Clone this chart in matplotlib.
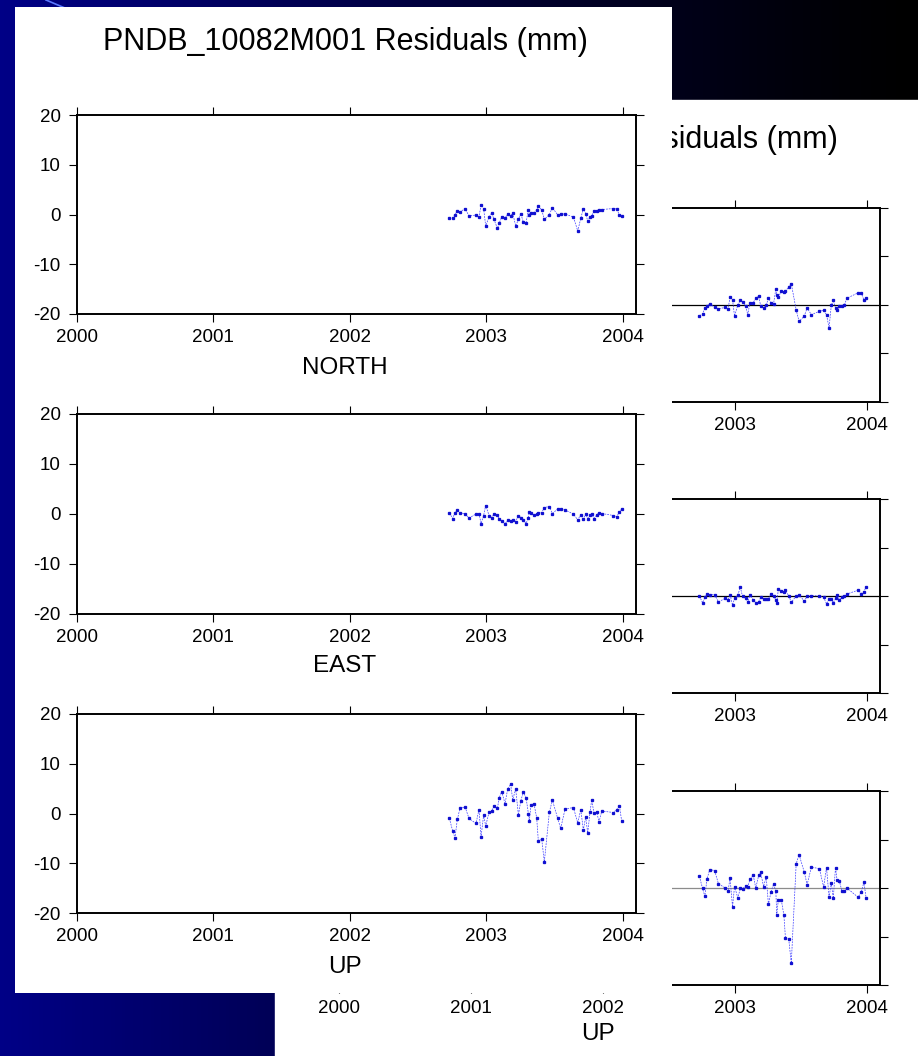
import numpy as np
import matplotlib
matplotlib.use("Agg")
import matplotlib.pyplot as plt
from matplotlib.patches import Rectangle

plt.rcParams['font.family'] = ['Liberation Sans', 'DejaVu Sans']
plt.rcParams['axes.unicode_minus'] = False

W, H = 918, 1056

# decimal years of the weekly solutions (shared by both station plots)
epochs = [2002.730, 2002.754, 2002.771, 2002.788, 2002.808, 2002.845, 2002.874, 2002.925,
          2002.947, 2002.962, 2002.981, 2002.996, 2003.021, 2003.040, 2003.057, 2003.082,
          2003.096, 2003.113, 2003.138, 2003.157, 2003.179, 2003.194, 2003.216, 2003.236,
          2003.253, 2003.272, 2003.292, 2003.309, 2003.316, 2003.328, 2003.350, 2003.370,
          2003.382, 2003.407, 2003.426, 2003.463, 2003.485, 2003.524, 2003.546, 2003.578,
          2003.639, 2003.671, 2003.693, 2003.712, 2003.729, 2003.744, 2003.761, 2003.773,
          2003.790, 2003.810, 2003.827, 2003.847, 2003.932, 2003.957, 2003.976, 2003.993]

# front plot: PNDB_10082M001 residuals (mm)
north_front = [-0.8, -0.7, 0.0, 0.7, 0.5, 1.2, -0.3, -0.1, -0.5, 1.9,
               1.2, -2.3, -0.5, 0.3, -1.0, -2.8, -1.7, -0.5, -0.8, 0.2,
               -0.3, 0.3, -2.3, -1.0, 0.2, -1.5, -1.7, 1.0, -0.1, 0.4,
               0.3, 0.9, 1.7, 0.9, -1.0, 0.0, 1.4, -0.1, 0.1, 0.1,
               -0.5, -3.3, -0.8, 1.2, 0.2, -1.3, -0.5, -0.3, 0.7, 0.8,
               1.0, 1.0, 1.2, 1.1, -0.1, -0.3]
east_front = [0.2, -0.9, 0.3, 0.8, 0.3, 0.0, -0.8, 0.0, 0.1, -1.9,
              -0.3, 1.7, -0.3, -0.7, 0.0, -0.2, -1.0, -1.3, -2.0, -1.2,
              -1.3, -1.2, -1.5, -0.3, -0.7, -1.2, -1.9, -0.7, 0.5, 0.3,
              -0.2, 0.0, 0.3, 0.3, 1.3, 1.5, 0.1, 1.0, 1.0, 0.8,
              0.0, -1.2, -0.1, -1.0, 0.0, -0.9, -0.2, 0.0, -0.9, -0.2,
              0.3, 0.1, -0.3, -0.5, 0.4, 1.0]
up_front = [-1.0, -3.5, -4.9, -1.2, 1.1, 1.3, -1.0, -2.0, 0.8, -4.7,
            -0.3, -2.5, 0.3, 0.5, 1.5, 1.1, 3.2, 4.4, 2.0, 4.9,
            5.9, 2.8, 4.9, -0.3, 2.5, 4.3, 3.2, 0.0, -1.5, 1.7,
            2.0, -0.9, -5.5, -5.2, -9.7, 0.3, 2.7, -1.0, -3.0, 0.9,
            1.2, -1.9, 0.8, -3.3, -0.7, -3.9, 0.3, 2.7, 0.1, 0.3,
            -1.7, 0.5, 0.2, 0.8, 1.6, -1.5]

# back plot (second station, mostly hidden)
north_back = [-2.2, -1.9, -0.6, -0.3, 0.3, -0.5, -0.8, -0.5, -0.8, 1.6,
              1.1, -2.3, 0.0, 1.0, 0.6, -0.3, -2.0, 0.5, 0.5, 1.4,
              1.8, -0.2, -0.6, 0.0, 1.4, 0.4, 0.3, 3.3, 2.0, 1.6,
              2.8, 2.6, 2.8, 3.8, 4.4, -1.0, -3.4, -2.3, -0.6, -2.0,
              -1.3, -1.1, -2.0, -4.7, -0.1, 1.0, -0.6, -1.0, -0.3, -0.3,
              -0.1, 1.4, 2.5, 2.5, 1.0, 1.4]
east_back = [0.0, -1.4, -0.3, 0.4, 0.2, 0.3, -1.2, -0.5, -0.8, 0.3,
             -1.9, -0.5, 0.2, 1.8, -0.1, -0.5, -1.3, 0.3, -0.8, -1.4,
             -1.2, -0.3, -0.6, -0.6, -0.6, 0.5, -0.1, -0.8, -1.4, 1.4,
             1.1, 0.9, 1.2, 0.0, -1.3, 0.0, 0.2, -1.0, -0.1, 0.1,
             0.0, -0.3, -1.6, -0.7, -0.7, -1.4, -0.5, 0.2, -0.8, -0.3,
             -0.1, 0.4, 1.2, 0.5, 0.9, 1.9]
up_back = [2.4, -0.1, -1.7, 1.9, 3.8, 3.6, 0.9, 0.0, -0.7, 2.1,
           -3.9, 0.3, -2.0, -0.1, -0.2, 0.5, 0.2, 1.8, 2.6, 0.0,
           2.6, 3.2, 0.3, 2.3, -3.4, -0.8, 0.8, -0.7, -5.6, -2.4,
           -2.4, -5.6, -10.4, -10.6, -15.5, 5.0, 6.9, 3.3, 0.7, 4.3,
           4.0, 0.2, 4.2, -1.9, 1.0, -2.1, 4.2, 1.6, 1.4, -0.6,
           -0.7, 0.0, -1.9, -0.8, 1.2, -2.1]

years = [2000, 2001, 2002, 2003, 2004]
yticks = [-20, -10, 0, 10, 20]
components = ["NORTH", "EAST", "UP"]
title = "PNDB_10082M001 Residuals (mm)"


def px_axes(l, t, r, b, z):
    return fig.add_axes([l / W, 1 - b / H, (r - l) / W, (b - t) / H], zorder=z)


def style_panel(ax, zero=None):
    ax.set_xlim(2000, 2004.098)
    ax.set_ylim(-20, 20)
    ax.set_xticks(years)
    ax.set_yticks(yticks)
    ax.tick_params(direction='out', length=5.8, width=0.8, labelsize=13.5,
                   top=True, right=True, labeltop=False, labelright=False)
    ax.tick_params(axis='x', pad=5)
    ax.tick_params(axis='y', pad=6)
    for t in ax.yaxis.get_major_ticks():
        t.tick2line.set_color('#888888')
    ax.yaxis.get_major_ticks()[2].tick2line.set_color('black')
    for t in ax.xaxis.get_major_ticks():
        t.tick2line.set_color('#444444')
    for s in ax.spines.values():
        s.set_linewidth(1.4)
    if zero is not None:
        ax.axhline(0, color=zero, lw=0.9, zorder=1)


def draw_series(ax, vals):
    ax.plot(epochs, vals, color='#3c3cff', lw=0.5, ls=(0, (2.5, 1.5)),
            marker='s', ms=1.4, mfc='#1010d0', mec='#1010d0', zorder=3)


fig = plt.figure(figsize=(W / 100, H / 100), dpi=100)

# slide background
bg = fig.add_axes([0, 0, 1, 1], zorder=0)
bg.set_xlim(0, W)
bg.set_ylim(H, 0)
bg.axis('off')
grad = np.zeros((1, 256, 3))
grad[0, :, 2] = np.linspace(0.60, 0.0, 256) ** 1.25
bg.imshow(grad, extent=[0, W, H, 0], aspect='auto')
bg.plot([46, 72], [0, 11], color='#5a78ff', lw=1.2)

# back sheet
bg.add_patch(Rectangle((275, 100), W - 275, H - 100, color='white'))
bg.text(838, 140, title, ha='right', va='center', fontsize=22)

back_rows = [(208, 402), (499, 693), (791, 985)]
back_vals = [north_back, east_back, up_back]
zero_cols = ['black', 'black', '#8c8c8c']
for (t, b), vals, name, zc in zip(back_rows, back_vals, components, zero_cols):
    ax = px_axes(339, t, 880, b, 1)
    style_panel(ax, zero=zc)
    # left labels sit entirely under the front sheet
    ax.tick_params(axis='y', labelleft=False)
    draw_series(ax, vals)
    if name == "UP":
        ax.text(2001.96, -20 - 49 / 194 * 40, name, ha='center', va='center',
                fontsize=17.5, clip_on=False)

# front sheet
sheet = px_axes(15, 7, 672, 993, 2)
sheet.set_xlim(15, 672)
sheet.set_ylim(993, 7)
sheet.set_xticks([])
sheet.set_yticks([])
for s in sheet.spines.values():
    s.set_visible(False)
sheet.set_facecolor('white')
sheet.text(345, 42, title, ha='center', va='center', fontsize=22)

front_rows = [(115, 314), (414, 614), (714, 913)]
front_vals = [north_front, east_front, up_front]
label_y = [368, 666, 967]
for (t, b), vals, name, ly in zip(front_rows, front_vals, components, label_y):
    ax = px_axes(77, t, 636, b, 3)
    style_panel(ax)
    draw_series(ax, vals)
    sheet.text(345, ly, name, ha='center', va='center', fontsize=17.5)

fig.savefig("out.png", dpi=100)
